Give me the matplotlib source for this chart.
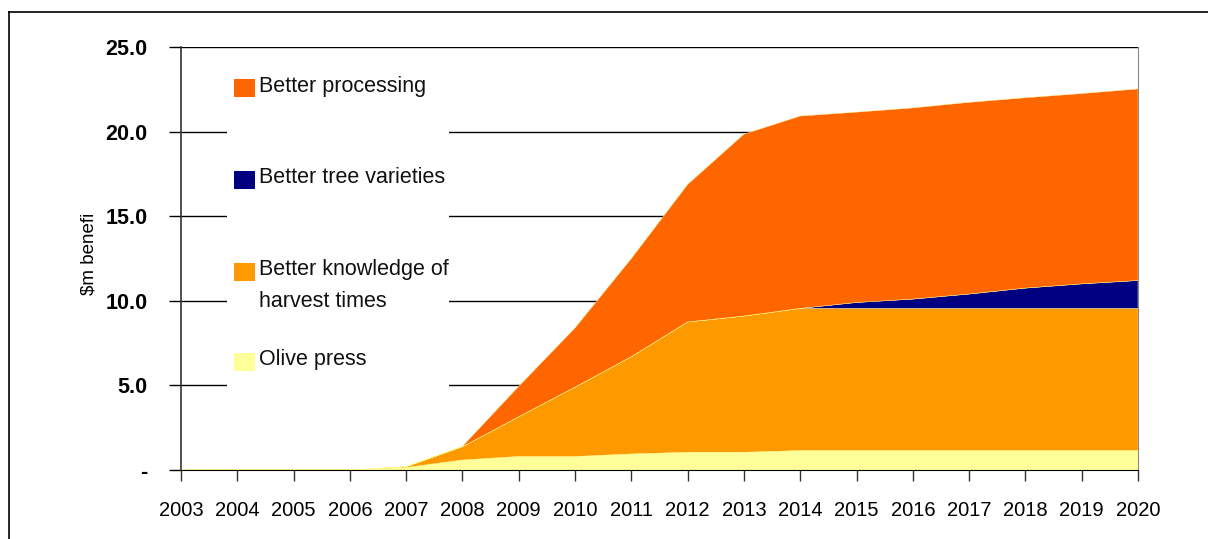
import matplotlib.pyplot as plt
from matplotlib.patches import Rectangle
from matplotlib.lines import Line2D

years = list(range(2003, 2021))

# $m benefit by source, stacked bottom to top
olive_press = [0, 0, 0, 0, 0.15, 0.59, 0.80, 0.80, 0.95, 1.05, 1.05, 1.15, 1.15, 1.15, 1.15, 1.15, 1.15, 1.15]
harvest_knowledge = [0, 0, 0, 0, 0.05, 0.79, 2.35, 4.10, 5.75, 7.70, 8.05, 8.40, 8.40, 8.40, 8.40, 8.40, 8.40, 8.40]
tree_varieties = [0, 0, 0, 0, 0, 0, 0, 0, 0, 0, 0, 0, 0.35, 0.55, 0.85, 1.20, 1.45, 1.65]
processing = [0, 0, 0, 0, 0, 0.02, 1.80, 3.50, 5.80, 8.13, 10.75, 11.37, 11.25, 11.30, 11.33, 11.25, 11.25, 11.32]

series_labels = ["Olive press", "Better knowledge of\nharvest times", "Better tree varieties", "Better processing"]
series_colors = ["#FFFF99", "#FF9900", "#000080", "#FF6600"]

y_ticks = [0, 5, 10, 15, 20, 25]
y_tick_labels = ["-", "5.0", "10.0", "15.0", "20.0", "25.0"]

plt.rcParams['font.family'] = ["Liberation Sans Narrow", "Liberation Sans", "DejaVu Sans"]

W, H = 1208, 539
fig = plt.figure(figsize=(W / 100, H / 100), dpi=100)
ax = fig.add_axes([181 / W, 1 - 470 / H, (1138 - 181) / W, (470 - 47) / H])

ax.stackplot(years, olive_press, harvest_knowledge, tree_varieties, processing,
             colors=series_colors, linewidth=0.3, edgecolors=series_colors, zorder=2)

ax.set_xlim(2003, 2020)
ax.set_ylim(0, 25)
ax.set_xticks(years)
ax.set_xticklabels([str(y) for y in years], fontsize=14.5)
ax.set_yticks(y_ticks)
ax.set_yticklabels(y_tick_labels, fontsize=15.5, fontweight="bold")
ax.tick_params(axis="x", direction="out", length=8, width=1, color="#333333", pad=14)
ax.tick_params(axis="y", direction="out", length=9, width=1, color="black", pad=15)
ax.grid(axis="y", color="black", linewidth=1, zorder=1)
ax.set_axisbelow(True)

ax.spines["top"].set_visible(False)
ax.spines["right"].set_color("#888888")
ax.spines["left"].set_color("#333333")
ax.spines["left"].set_linewidth(1.2)
ax.spines["bottom"].set_color("black")

ax.set_ylabel("$m benefi", fontsize=13.5)
ax.yaxis.set_label_coords(-0.0876, 0.51)

# legend panel on a white box that hides the gridlines behind it
to_ax = ax.transAxes.inverted()
def px(x, y):
    return to_ax.transform(fig.transFigure.transform((x / W, 1 - y / H)))

x0, y0 = px(227, 392)
x1, y1 = px(449, 55)
ax.add_patch(Rectangle((x0, y0), x1 - x0, y1 - y0, transform=ax.transAxes,
                       facecolor="white", edgecolor="none", zorder=3))

# (series index, box centre, first text baseline) in pixels
legend_rows = [(3, 88, 92), (2, 180, 183), (1, 272, 275), (0, 362, 365)]
for idx, ybox, ybase in legend_rows:
    bx, by = px(234, ybox + 9)
    bx2, by2 = px(255, ybox - 9)
    ax.add_patch(Rectangle((bx, by), bx2 - bx, by2 - by, transform=ax.transAxes,
                           facecolor=series_colors[idx], edgecolor="none", zorder=4))
    for i, line in enumerate(series_labels[idx].split("\n")):
        tx, ty = px(259, ybase + 32 * i)
        ax.text(tx, ty, line, transform=ax.transAxes, fontsize=15.5,
                family=["Liberation Sans", "DejaVu Sans"], va="baseline", ha="left",
                color="#111111", zorder=5)

# outer chart frame
fig.add_artist(Line2D([9 / W, 1], [1 - 12 / H, 1 - 12 / H], transform=fig.transFigure,
                      color="black", linewidth=1.2))
fig.add_artist(Line2D([9 / W, 9 / W], [0, 1 - 12 / H], transform=fig.transFigure,
                      color="black", linewidth=1.2))

fig.savefig("out.png", dpi=100)
